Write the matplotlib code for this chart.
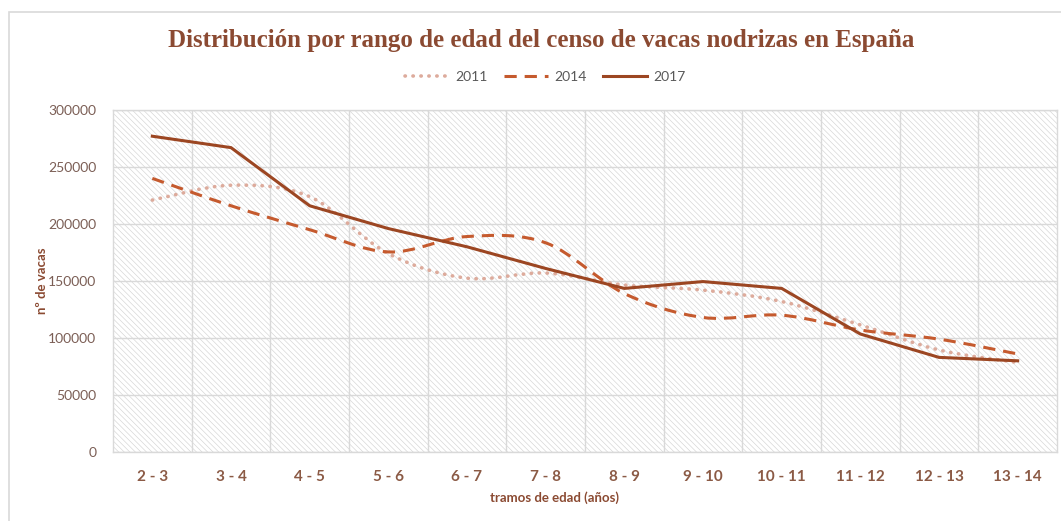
import matplotlib
matplotlib.use("Agg")
import matplotlib.pyplot as plt
from matplotlib.path import Path
from matplotlib.patches import PathPatch, Rectangle
from matplotlib.lines import Line2D
import numpy as np

# data
tramos = ["2 - 3", "3 - 4", "4 - 5", "5 - 6", "6 - 7", "7 - 8", "8 - 9",
          "9 - 10", "10 - 11", "11 - 12", "12 - 13", "13 - 14"]
vacas_2011 = [221000, 234000, 224000, 174000, 152500, 157000, 146500,
              142000, 132000, 111500, 89500, 78500]
vacas_2014 = [240000, 216000, 195000, 175500, 189000, 183500, 139000,
              118000, 120000, 107000, 99000, 86000]
vacas_2017 = [277000, 267000, 216000, 196000, 180000, 161000, 143500,
              149500, 143500, 103500, 83000, 80000]
y_ticks = [0, 50000, 100000, 150000, 200000, 250000, 300000]

c2011 = "#DDAB9C"
c2014 = "#C55A2E"
c2017 = "#9C4622"
brown = "#8B4A32"
tick_col = "#7B5E55"
grid_col = "#D9D9D9"


def smooth_path(xs, ys):
    # catmull-rom style bezier, like excel "smoothed line"
    verts = [(xs[0], ys[0])]
    codes = [Path.MOVETO]
    n = len(xs)
    for i in range(n - 1):
        x0, y0 = xs[max(i - 1, 0)], ys[max(i - 1, 0)]
        x1, y1 = xs[i], ys[i]
        x2, y2 = xs[i + 1], ys[i + 1]
        x3, y3 = xs[min(i + 2, n - 1)], ys[min(i + 2, n - 1)]
        verts += [(x1 + (x2 - x0) / 6.0, y1 + (y2 - y0) / 6.0),
                  (x2 - (x3 - x1) / 6.0, y2 - (y3 - y1) / 6.0),
                  (x2, y2)]
        codes += [Path.CURVE4] * 3
    return Path(verts, codes)


plt.rcParams['font.family'] = ['Lato', 'DejaVu Sans']
plt.rcParams['hatch.linewidth'] = 0.45

fig = plt.figure(figsize=(10.61, 5.21), dpi=100)
ax = fig.add_axes([113 / 1061, 1 - 452 / 521, 944 / 1061, 342 / 521])

# chart border (right/bottom are cut off in the original)
fig.patches.append(Rectangle((9 / 1061, -0.1), 1.2, 1 - 12 / 521 + 0.1,
                             transform=fig.transFigure, fill=False,
                             edgecolor=grid_col, linewidth=1.2))

# hatched plot area
ax.add_patch(Rectangle((0, 0), 1, 1, transform=ax.transAxes, facecolor="white",
                       edgecolor="#D4D4D4", hatch="\\\\\\\\\\\\", linewidth=0, zorder=0))

x = np.arange(len(tramos))

dot_style = (0, (0.1, 2.1))
dash_style = (0, (4, 2.6))

ax.add_patch(PathPatch(smooth_path(x, vacas_2011), fill=False, edgecolor=c2011,
                       linewidth=2.6, linestyle=dot_style, capstyle="round", zorder=3))
ax.add_patch(PathPatch(smooth_path(x, vacas_2014), fill=False, edgecolor=c2014,
                       linewidth=2.2, linestyle=dash_style, capstyle="butt", zorder=3))
ax.plot(x, vacas_2017, color=c2017, linewidth=2.2, solid_joinstyle="miter", zorder=4)

ax.set_xlim(-0.5, len(tramos) - 0.5)
ax.set_ylim(0, 300000)
ax.set_yticks(y_ticks)
ax.set_yticklabels([str(v) for v in y_ticks], color=tick_col, fontsize=10)
ax.set_xticks(x)
ax.set_xticklabels(tramos, color="#8B5A45", fontsize=11, fontweight="bold")
ax.set_xticks(np.arange(0.5, len(tramos) - 0.5, 1), minor=True)
ax.tick_params(axis="both", which="both", length=0)
ax.tick_params(axis="y", pad=12)
ax.tick_params(axis="x", pad=13)
ax.grid(axis="y", color=grid_col, linewidth=1.0, zorder=1)
ax.grid(axis="x", which="minor", color=grid_col, linewidth=1.0, zorder=1)
ax.set_axisbelow(True)
for s in ax.spines.values():
    s.set_color(grid_col)
    s.set_linewidth(1.0)

fig.text(42 / 1061, 1 - 281 / 521, "nº de vacas", rotation=90, ha="center", va="center",
         fontsize=9.5, fontweight="bold", color=brown)
fig.text(555 / 1061, 1 - 498 / 521, "tramos de edad (años)", ha="center", va="center",
         fontsize=9.5, fontweight="bold", color=brown)
fig.text(541 / 1061, 1 - 40 / 521,
         "Distribución por rango de edad del censo de vacas nodrizas en España",
         ha="center", va="center", fontsize=18, fontweight="bold", color=brown,
         family=["Liberation Serif", "DejaVu Serif"])

handles = [Line2D([], [], color=c2011, linewidth=2.6, linestyle=dot_style, dash_capstyle="round"),
           Line2D([], [], color=c2014, linewidth=2.2, linestyle=dash_style),
           Line2D([], [], color=c2017, linewidth=2.2)]
leg = fig.legend(handles, ["2011", "2014", "2017"], loc="center", ncol=3, frameon=False,
                 bbox_to_anchor=(545 / 1061, 1 - 77 / 521), fontsize=10,
                 handlelength=3.2, handletextpad=0.4, columnspacing=1.2)
for t in leg.get_texts():
    t.set_color("#595959")

fig.savefig("out.png", dpi=100)
